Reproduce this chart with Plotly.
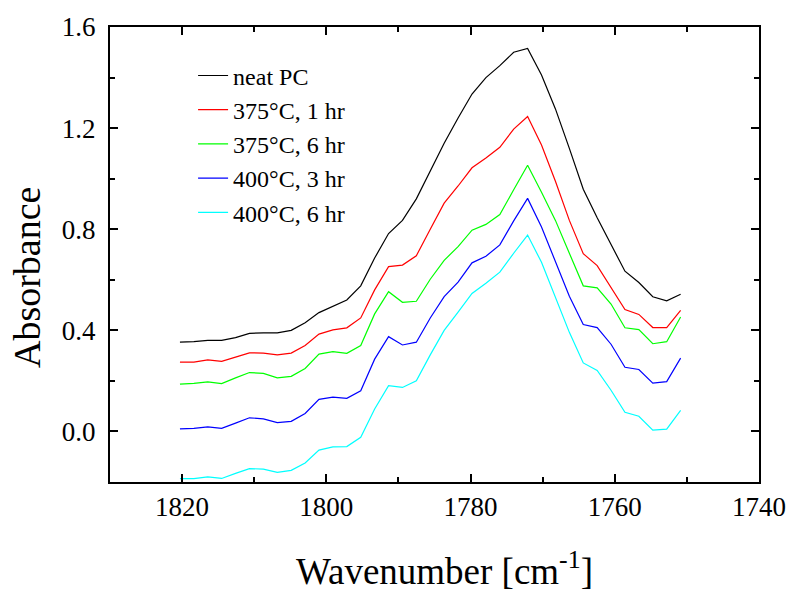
import plotly.graph_objects as go

wavenumber = [1820.30, 1818.37, 1816.44, 1814.52, 1812.59, 1810.66, 1808.73, 1806.80,
              1804.87, 1802.94, 1801.02, 1799.09, 1797.16, 1795.23, 1793.30, 1791.37,
              1789.44, 1787.52, 1785.59, 1783.66, 1781.73, 1779.80, 1777.87, 1775.94,
              1774.02, 1772.09, 1770.16, 1768.23, 1766.30, 1764.37, 1762.44, 1760.52,
              1758.59, 1756.66, 1754.73, 1752.80, 1750.87]

neat_pc = [0.353, 0.355, 0.360, 0.360, 0.371, 0.388, 0.390, 0.390, 0.400, 0.430, 0.470,
           0.495, 0.520, 0.576, 0.686, 0.783, 0.835, 0.920, 1.030, 1.140, 1.240, 1.335,
           1.400, 1.447, 1.500, 1.515, 1.410, 1.276, 1.120, 0.958, 0.845, 0.738, 0.634,
           0.589, 0.533, 0.517, 0.543]
c375_1hr = [0.274, 0.274, 0.283, 0.277, 0.294, 0.311, 0.310, 0.303, 0.310, 0.340, 0.385,
            0.402, 0.410, 0.449, 0.560, 0.652, 0.658, 0.695, 0.800, 0.903, 0.971, 1.043,
            1.082, 1.124, 1.196, 1.246, 1.133, 0.990, 0.835, 0.703, 0.656, 0.569, 0.482,
            0.463, 0.411, 0.411, 0.479]
c375_6hr = [0.187, 0.190, 0.196, 0.189, 0.212, 0.233, 0.230, 0.212, 0.218, 0.249, 0.306,
            0.316, 0.309, 0.340, 0.465, 0.553, 0.511, 0.515, 0.602, 0.677, 0.731, 0.796,
            0.819, 0.858, 0.956, 1.053, 0.946, 0.835, 0.705, 0.576, 0.568, 0.504, 0.410,
            0.403, 0.347, 0.355, 0.453]
c400_3hr = [0.010, 0.012, 0.018, 0.012, 0.033, 0.054, 0.050, 0.035, 0.040, 0.071, 0.127,
            0.136, 0.131, 0.161, 0.286, 0.375, 0.342, 0.353, 0.449, 0.533, 0.591, 0.667,
            0.693, 0.738, 0.833, 0.922, 0.809, 0.675, 0.535, 0.423, 0.411, 0.345, 0.254,
            0.245, 0.191, 0.197, 0.290]
c400_6hr = [-0.187, -0.187, -0.180, -0.186, -0.166, -0.147, -0.149, -0.162, -0.154, -0.125,
            -0.074, -0.061, -0.060, -0.023, 0.089, 0.181, 0.174, 0.200, 0.303, 0.400, 0.472,
            0.546, 0.586, 0.630, 0.705, 0.777, 0.669, 0.532, 0.392, 0.271, 0.241, 0.163,
            0.076, 0.060, 0.005, 0.009, 0.083]

series_names = ["neat PC", "375°C, 1 hr", "375°C, 6 hr", "400°C, 3 hr", "400°C, 6 hr"]
series_values = [neat_pc, c375_1hr, c375_6hr, c400_3hr, c400_6hr]
series_colors = ["#000000", "#ff0000", "#00ff00", "#0000ff", "#00ffff"]

x_ticks = [1820, 1800, 1780, 1760, 1740]
y_ticks = [0.0, 0.4, 0.8, 1.2, 1.6]
y_tick_labels = ["0.0", "0.4", "0.8", "1.2", "1.6"]

FONT = "Liberation Serif, Times New Roman, serif"

fig = go.Figure()
for i, (name, vals, col) in enumerate(zip(series_names, series_values, series_colors)):
    fig.add_trace(go.Scatter(x=wavenumber, y=vals, mode="lines", name=name,
                             legendgroup=f"g{i}",
                             line=dict(color=col, width=1.2)))

axis_common = dict(showline=True, linecolor="black", linewidth=2, mirror="allticks",
                   ticks="inside", ticklen=8, tickwidth=2, tickcolor="black",
                   showgrid=False, zeroline=False,
                   tickfont=dict(family=FONT, size=27, color="black"))

fig.update_xaxes(range=[1830, 1740], tickvals=x_ticks, ticktext=[str(v) for v in x_ticks],
                 minor=dict(dtick=10, tick0=1740, ticks="inside", ticklen=5, tickwidth=2,
                            tickcolor="black", showgrid=False),
                 ticklabelstandoff=0,
                 **axis_common)
fig.update_yaxes(range=[-0.2, 1.6], tickvals=y_ticks, ticktext=y_tick_labels,
                 minor=dict(dtick=0.2, tick0=0, ticks="inside", ticklen=5, tickwidth=2,
                            tickcolor="black", showgrid=False),
                 ticklabelstandoff=7,
                 **axis_common)

fig.add_annotation(text="Wavenumber [cm<sup>-1</sup>]", xref="paper", yref="paper",
                   x=(448 - 110) / 656, y=(482 - 570) / 462, xanchor="center", yanchor="middle",
                   showarrow=False, font=dict(family=FONT, size=37, color="black"))
fig.add_annotation(text="Absorbance", xref="paper", yref="paper", textangle=-90,
                   x=(26 - 110) / 656, y=(482 - 274) / 462, xanchor="center", yanchor="middle",
                   showarrow=False, font=dict(family=FONT, size=38, color="black"))

fig.update_layout(
    width=798, height=592,
    margin=dict(l=110, r=32, t=20, b=110),
    paper_bgcolor="white", plot_bgcolor="white",
    font=dict(family=FONT, color="black"),
    showlegend=True,
    legend=dict(x=0.128, y=0.942, xanchor="left", yanchor="top",
                bgcolor="rgba(0,0,0,0)", borderwidth=0,
                font=dict(family=FONT, size=24, color="black"),
                tracegroupgap=0),
)

fig.write_html("out.html")
